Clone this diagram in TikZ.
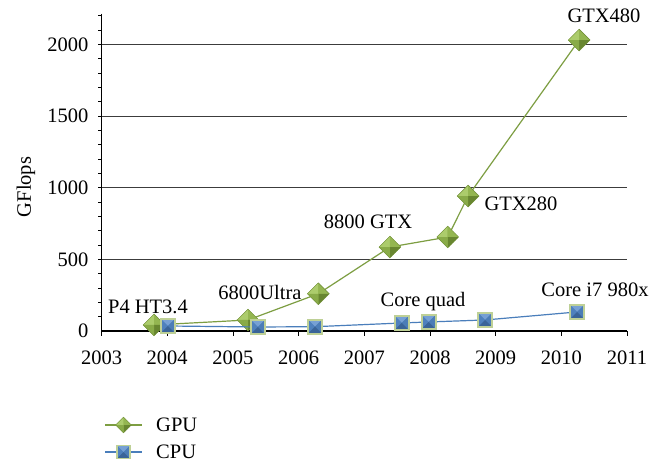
\documentclass[tikz,border=0pt]{standalone}
\usepackage{fontspec}
\setmainfont{Liberation Serif}
\usetikzlibrary{shapes.geometric}
\definecolor{gpuline}{RGB}{125,158,66}
\definecolor{gpufill}{RGB}{145,180,78}
\definecolor{gpulight}{RGB}{172,204,108}
\definecolor{gpudark}{RGB}{104,134,48}
\definecolor{gpuedge}{RGB}{112,142,56}
\definecolor{cpuline}{RGB}{74,126,187}
\definecolor{cpufill}{RGB}{79,129,189}
\definecolor{cpulight}{RGB}{118,160,212}
\definecolor{cpudark}{RGB}{58,100,152}
\definecolor{cpuframe}{RGB}{190,208,150}
\definecolor{gridc}{RGB}{60,60,60}
\tikzset{
  gpumark/.style={diamond, aspect=1, minimum width=#1, minimum height=#1, inner sep=0pt,
    fill=gpufill, draw=gpuedge, line width=0.4pt,
    path picture={
      \fill[gpulight] (path picture bounding box.north) -- (path picture bounding box.center) -- (path picture bounding box.west) -- cycle;
      \fill[gpufill!90!gpulight] (path picture bounding box.north) -- (path picture bounding box.center) -- (path picture bounding box.east) -- cycle;
      \fill[gpudark] (path picture bounding box.south) -- (path picture bounding box.center) -- (path picture bounding box.east) -- cycle;
      \fill[gpufill!80!gpudark] (path picture bounding box.south) -- (path picture bounding box.center) -- (path picture bounding box.west) -- cycle;
    }},
  gpumark/.default=22pt,
  cpumark/.style={rectangle, minimum size=#1, inner sep=0pt,
    fill=cpufill, draw=cpuframe, line width=1.8pt,
    path picture={
      \fill[cpulight] (path picture bounding box.north west) -- (path picture bounding box.center) -- (path picture bounding box.north east) -- cycle;
      \fill[cpufill] (path picture bounding box.north west) -- (path picture bounding box.center) -- (path picture bounding box.south west) -- cycle;
      \fill[cpufill!85!cpudark] (path picture bounding box.north east) -- (path picture bounding box.center) -- (path picture bounding box.south east) -- cycle;
      \fill[cpudark] (path picture bounding box.south west) -- (path picture bounding box.center) -- (path picture bounding box.south east) -- cycle;
    }},
  cpumark/.default=14pt,
  gpuln/.style={draw=gpuline, line width=1.2pt},
  cpuln/.style={draw=cpuline, line width=1.2pt},
  gridln/.style={draw=gridc, line width=0.9pt},
  axisln/.style={draw=black, line width=1.7pt},
  lbl/.style={inner sep=0pt},
}
\begin{document}
\begin{tikzpicture}[x=1pt,y=-1pt,font=\fontsize{20.5}{24}\selectfont]
\useasboundingbox (0,0) rectangle (661,465);
\fill[white] (0,0) rectangle (661,465);
\begin{scope}[shift={(101.5,331)}, x=65.7pt, y=0.14325pt]
  % grid
  \foreach \v in {500,1000,1500,2000} \draw[gridln] (0,\v) -- (8,\v);
  % minor ticks on y axis
  \foreach \v in {100,200,...,2200} \draw[black, line width=0.8pt] (0,\v) -- ++(-4pt,0);
  % x ticks
  \foreach \t in {0,...,8} \draw[black, line width=0.8pt] (\t,0) -- ++(0,-5pt);
  % axes
  \coordinate (o) at (0,0);
  \coordinate (ytop) at (0,2215);
  \coordinate (xend) at (8,0);
  \draw[axisln] (ytop) -- (o) -- (xend);
  % y labels
  \foreach \v in {0,500,1000,1500,2000} \node[lbl, anchor=east] (yl\v) at ([xshift=-13pt]0,\v) {\v};
  % x labels
  \foreach \t [evaluate=\t as \yr using int(2003+\t)] in {0,...,8} \node[lbl, anchor=center] (xl\t) at ([yshift=-27pt]\t,0) {\yr};
  % GPU data
  \coordinate (g1) at (0.80,42);
  \coordinate (g2) at (2.23,77);
  \coordinate (g3) at (3.30,260);
  \coordinate (g4) at (4.39,586);
  \coordinate (g5) at (5.27,656);
  \coordinate (g6) at (5.58,942);
  \coordinate (g7) at (7.27,2031);
  \draw[gpuln] (g1) -- (g2) -- (g3) -- (g4) -- (g5) -- (g6) -- (g7);
  \foreach \i in {1,...,7} \node[gpumark] (gm\i) at (g\i) {};
  % CPU data
  \coordinate (c1) at (1.01,35);
  \coordinate (c2) at (2.38,28);
  \coordinate (c3) at (3.25,30);
  \coordinate (c4) at (4.57,56);
  \coordinate (c5) at (4.98,63);
  \coordinate (c6) at (5.84,77);
  \coordinate (c7) at (7.24,133);
  \draw[cpuln] (c1) -- (c2) -- (c3) -- (c4) -- (c5) -- (c6) -- (c7);
  \foreach \i in {1,...,7} \node[cpumark] (cm\i) at (c\i) {};
\end{scope}
% axis title
\node[lbl, rotate=90] (ytitle) at (26,187) {GFlops};
% data labels
\node[lbl] (lgtx480) at (604,16) {GTX480};
\node[lbl] (lgtx280) at (521,204) {GTX280};
\node[lbl] (l8800) at (368,222) {8800 GTX};
\node[lbl] (l6800) at (260,292) {6800Ultra};
\node[lbl] (lp4) at (148,307) {P4 HT3.4};
\node[lbl] (lquad) at (423,302) {Core quad};
\node[lbl] (li7) at (595,290) {Core i7 980x};
% legend
\coordinate (lga) at (105,425);
\coordinate (lgb) at (142,425);
\draw[gpuln] (lga) -- (lgb);
\node[gpumark=16pt] (lgm) at (123.5,425) {};
\node[lbl, anchor=west] (lgt) at (156,425) {GPU};
\coordinate (lca) at (105,452);
\coordinate (lcb) at (142,452);
\draw[cpuln] (lca) -- (lcb);
\node[cpumark=13pt] (lcm) at (123.5,452) {};
\node[lbl, anchor=west] (lct) at (156,452) {CPU};
\end{tikzpicture}
\end{document}
